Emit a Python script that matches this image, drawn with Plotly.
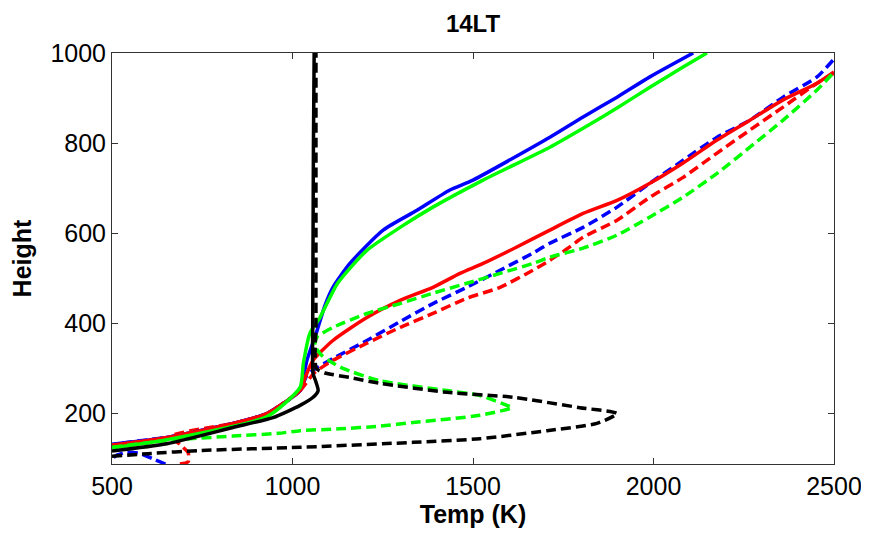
import plotly.graph_objects as go

# Temperature (K) vs Height profiles
blue_solid_H = [132, 147, 178, 200, 251, 280, 318, 384, 440, 480, 533, 607, 651, 696, 718, 813, 858, 902, 947, 1000]
blue_solid_T = [500, 652, 835, 929, 1021, 1030, 1040, 1068, 1090, 1112, 1159, 1251, 1345, 1436, 1500, 1713, 1805, 1899, 1990, 2110]

green_solid_H = [124, 142, 193, 258, 311, 378, 413, 489, 562, 613, 658, 718, 791, 833, 878, 924, 969, 1000]
green_solid_T = [500, 652, 929, 1021, 1030, 1048, 1076, 1125, 1206, 1298, 1389, 1528, 1713, 1805, 1899, 1990, 2082, 2148]

red_solid_H = [130, 147, 178, 200, 251, 280, 318, 362, 413, 451, 480, 511, 533, 569, 607, 644, 673, 711, 756, 807, 851, 896, 933, 958]
red_solid_T = [500, 652, 835, 929, 1021, 1035, 1057, 1112, 1206, 1298, 1389, 1464, 1528, 1620, 1713, 1805, 1899, 1990, 2082, 2176, 2267, 2359, 2453, 2500]

blue_dash_H = [88, 100, 112, 114, 108, 100, 125, 147, 178, 200, 251, 285, 302, 322, 362, 404, 444, 480, 518, 556, 578, 613, 658, 711, 762, 813, 851, 902, 947, 984]
blue_dash_T = [648, 612, 575, 540, 515, 495, 480, 652, 835, 929, 1021, 1040, 1068, 1112, 1206, 1298, 1389, 1483, 1575, 1666, 1713, 1805, 1899, 1990, 2082, 2176, 2267, 2359, 2453, 2497]

red_dash_H = [88, 93, 113, 130, 150, 178, 200, 251, 290, 318, 356, 391, 422, 456, 480, 518, 540, 565, 591, 629, 680, 724, 778, 829, 880, 933, 955]
red_dash_T = [688, 711, 711, 690, 665, 835, 929, 1021, 1060, 1112, 1206, 1298, 1389, 1483, 1575, 1666, 1713, 1760, 1805, 1899, 1990, 2082, 2176, 2267, 2359, 2453, 2500]

green_dash_H = [125, 140, 150, 156, 162, 166, 172, 180, 196, 213, 218, 240, 251, 273, 300, 318, 330, 350, 370, 391, 422, 444, 467, 489, 511, 533, 547, 567, 596, 636, 680, 733, 791, 851, 918, 955]
green_dash_T = [500, 650, 835, 960, 1021, 1130, 1242, 1334, 1519, 1608, 1594, 1519, 1428, 1242, 1140, 1100, 1080, 1062, 1068, 1112, 1206, 1298, 1389, 1483, 1575, 1666, 1713, 1805, 1899, 1990, 2082, 2176, 2267, 2359, 2453, 2497]

black_solid_H = [117, 133, 169, 191, 218, 236, 251, 270, 289, 400, 600, 800, 1000]
black_solid_T = [500, 652, 835, 946, 1021, 1057, 1071, 1065, 1057, 1056, 1057, 1058, 1060]

black_dash_H = [105, 111, 118, 125, 136, 144, 162, 178, 200, 213, 236, 247, 267, 280, 290, 300, 400, 600, 800, 1000]
black_dash_T = [500, 600, 744, 1021, 1334, 1519, 1705, 1843, 1899, 1796, 1611, 1428, 1242, 1159, 1090, 1066, 1065, 1065, 1065, 1065]

x_ticks = [500, 1000, 1500, 2000, 2500]
y_ticks = [200, 400, 600, 800, 1000]

DASH = "10px,5px"
LW = 3.5

series = [
    (blue_dash_T, blue_dash_H, "#0000FF", DASH),
    (red_dash_T, red_dash_H, "#FF0000", DASH),
    (blue_solid_T, blue_solid_H, "#0000FF", "solid"),
    (red_solid_T, red_solid_H, "#FF0000", "solid"),
    (green_dash_T, green_dash_H, "#00FF00", DASH),
    (green_solid_T, green_solid_H, "#00FF00", "solid"),
    (black_solid_T, black_solid_H, "#000000", "solid"),
    (black_dash_T, black_dash_H, "#000000", DASH),
]

fig = go.Figure()
for T, H, c, d in series:
    fig.add_trace(go.Scatter(x=T, y=H, mode="lines",
                             line=dict(color=c, width=LW, dash=d, shape="spline", smoothing=0.6),
                             showlegend=False, hoverinfo="skip"))

FONT = "Liberation Sans, Arial, Helvetica, sans-serif"
axis_common = dict(
    showline=True, linecolor="#333333", linewidth=1, mirror="allticks",
    ticks="inside", ticklen=6, tickcolor="#333333", tickwidth=1,
    showgrid=False, zeroline=False, automargin=False,
    tickfont=dict(family=FONT, size=25, color="#000000"),
)

# The page body has an 8px default margin, so the figure is sized to fit the window.
fig.update_layout(
    width=861, height=525,
    paper_bgcolor="white", plot_bgcolor="white",
    margin=dict(l=104, r=35, t=45, b=69),
    title=dict(text="<b>14LT</b>", xref="paper", x=0.5, xanchor="center",
               yref="container", y=0.97, yanchor="middle",
               font=dict(family=FONT, size=24, color="#000000")),
    xaxis=dict(range=[500, 2500], tickvals=x_ticks,
               title=dict(text="<b>Temp (K)</b>", font=dict(family=FONT, size=25, color="#000000"), standoff=6),
               **axis_common),
    yaxis=dict(range=[88, 1000], tickvals=y_ticks,
               title=dict(text="<b>Height</b>", font=dict(family=FONT, size=25, color="#000000"), standoff=13),
               **axis_common),
)

fig.write_html("out.html")
